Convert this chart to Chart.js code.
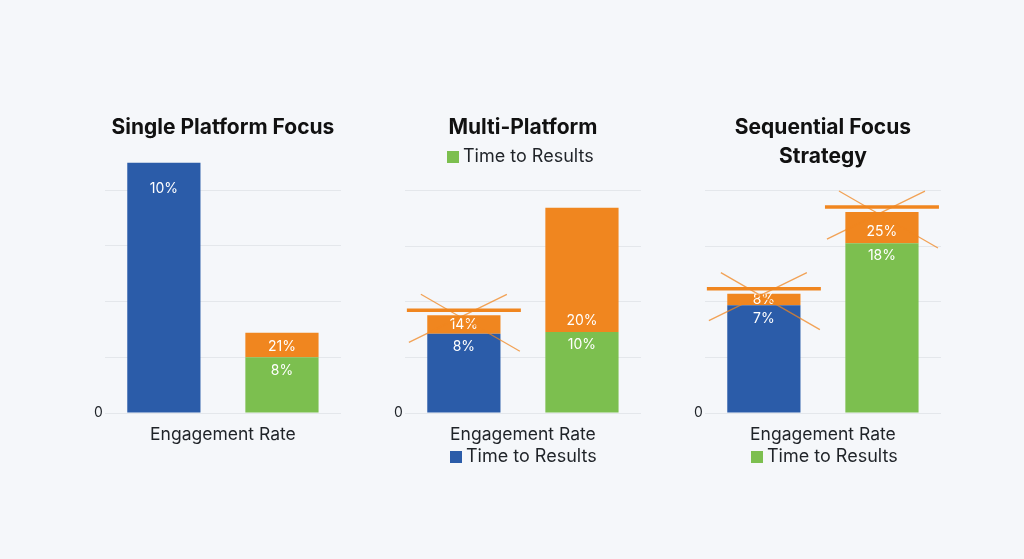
<!DOCTYPE html>
<html>
<head>
<meta charset="utf-8">
<script src="https://cdn.jsdelivr.net/npm/chart.js@4.4.1/dist/chart.umd.min.js"></script>
<style>
  body { margin: 0; background: #f5f7fa; font-family: Inter, "Noto Sans", sans-serif; }
  #page { position: relative; width: 1024px; height: 559px; overflow: hidden; }
  .panel { position: absolute; top: 100px; width: 266px; height: 362px; }
  .legend { position: absolute; font-size: 18px; color: #1f2328; white-space: nowrap; line-height: 20px; }
  .legend span { display: inline-block; width: 12px; height: 12px; margin-right: 4px; vertical-align: -1px; }
</style>
</head>
<body>
<div id="page">
  <div class="panel" style="left:85px"><canvas id="single"></canvas></div>
  <div class="panel" style="left:385px"><canvas id="multi"></canvas></div>
  <div class="panel" style="left:685px"><canvas id="sequential"></canvas></div>
  <div class="legend" style="left:447px; top:146px"><span style="background:#7cbf4f"></span>Time to Results</div>
  <div class="legend" style="left:450px; top:446px"><span style="background:#2b5ca9"></span>Time to Results</div>
  <div class="legend" style="left:751px; top:446px"><span style="background:#7cbf4f"></span>Time to Results</div>
</div>
<script>
const categories = ['Engagement Rate'];

// bar heights (grid step = 5)
const singleBlue = [22.5];
const singleGreen = [5.0];
const singleOrangeA = [null];
const singleOrangeB = [2.2];
const singleLabels = ['10%', '8%', '', '21%'];

const multiBlue = [7.15];
const multiGreen = [7.3];
const multiOrangeA = [1.65];
const multiOrangeB = [11.2];
const multiLabels = ['8%', '10%', '14%', '20%'];

const seqBlue = [9.7];
const seqGreen = [15.3];
const seqOrangeA = [1.05];
const seqOrangeB = [2.8];
const seqLabels = ['7%', '18%', '8%', '25%'];

const BLUE = '#2b5ca9';
const GREEN = '#7cbf4f';
const ORANGE = '#f0861f';

const barLabels = {
    id: 'barLabels',
    afterDatasetsDraw(chart, args, opts) {
        const ctx = chart.ctx;
        ctx.save();
        ctx.fillStyle = '#ffffff';
        ctx.font = '14px Inter, sans-serif';
        ctx.textAlign = 'center';
        ctx.textBaseline = 'middle';
        chart.data.datasets.forEach((ds, i) => {
            const text = opts.labels[i];
            const bar = chart.getDatasetMeta(i).data[0];
            if (!text || !bar || ds.data[0] == null) return;
            let y;
            if (i >= 2) {
                // top segment: just above the joint, or centred when thin
                y = Math.max(bar.base - 11, (bar.base + bar.y) / 2);
            } else {
                const above = chart.data.datasets[i + 2].data[0];
                y = bar.y + (above == null ? 26 : 13);
            }
            ctx.fillText(text, bar.x, y);
        });
        ctx.restore();
    }
};

// the orange cross marks over some of the bars
const crossMarks = {
    id: 'crossMarks',
    afterDatasetsDraw(chart, args, opts) {
        const ctx = chart.ctx;
        ctx.save();
        ctx.strokeStyle = ORANGE;
        opts.marked.forEach(i => {
            const bar = chart.getDatasetMeta(i).data[0];
            if (!bar) return;
            const x = bar.x, top = bar.y;
            ctx.globalAlpha = 0.75;
            ctx.lineWidth = 1.3;
            ctx.beginPath();
            ctx.moveTo(x - 43, top - 21);
            ctx.lineTo(x + 56, top + 36);
            ctx.moveTo(x + 43, top - 21);
            ctx.lineTo(x - 55, top + 27);
            ctx.stroke();
            ctx.globalAlpha = 1;
            ctx.lineWidth = 3.5;
            ctx.beginPath();
            ctx.moveTo(x - 57, top - 5);
            ctx.lineTo(x + 57, top - 5);
            ctx.stroke();
        });
        ctx.restore();
    }
};

function makeChart(id, title, yMax, blue, green, orangeA, orangeB, labels, marked, titleGap) {
    return new Chart(document.getElementById(id), {
        type: 'bar',
        data: {
            labels: categories,
            datasets: [
                { label: 'Blue', data: blue, backgroundColor: BLUE, stack: 'a' },
                { label: 'Green', data: green, backgroundColor: GREEN, stack: 'b' },
                { label: 'OrangeA', data: orangeA, backgroundColor: ORANGE, stack: 'a' },
                { label: 'OrangeB', data: orangeB, backgroundColor: ORANGE, stack: 'b' }
            ]
        },
        options: {
            responsive: true,
            maintainAspectRatio: false,
            animation: false,
            categoryPercentage: 1.0,
            barPercentage: 0.62,
            layout: { padding: { left: 7, right: 10, top: 0, bottom: 6 } },
            plugins: {
                legend: { display: false },
                tooltip: { enabled: false },
                title: {
                    display: true,
                    fullSize: false,
                    text: title,
                    color: '#111111',
                    font: { family: 'Inter, sans-serif', size: 21, weight: 'bold', lineHeight: 1.38 },
                    padding: { top: 13, bottom: titleGap }
                },
                barLabels: { labels: labels },
                crossMarks: { marked: marked }
            },
            scales: {
                x: {
                    stacked: true,
                    grid: { display: false, drawTicks: false },
                    border: { display: false },
                    ticks: { color: '#1f2328', padding: 11, font: { family: 'Inter, sans-serif', size: 17.5 } }
                },
                y: {
                    stacked: true,
                    min: 0,
                    max: yMax,
                    grid: { color: '#e4e7eb', drawTicks: false },
                    border: { display: false },
                    ticks: {
                        stepSize: 5,
                        includeBounds: false,
                        padding: 2,
                        color: '#1f2328',
                        font: { family: 'Inter, sans-serif', size: 14 },
                        callback: v => (v === 0 ? '0' : '')
                    }
                }
            }
        },
        plugins: [barLabels, crossMarks]
    });
}

makeChart('single', 'Single Platform Focus', 22.5, singleBlue, singleGreen, singleOrangeA, singleOrangeB, singleLabels, [], 20.5);
makeChart('multi', 'Multi-Platform', 20, multiBlue, multiGreen, multiOrangeA, multiOrangeB, multiLabels, [2], 49);
makeChart('sequential', ['Sequential Focus', 'Strategy'], 20, seqBlue, seqGreen, seqOrangeA, seqOrangeB, seqLabels, [2, 3], 20);
</script>
</body>
</html>
